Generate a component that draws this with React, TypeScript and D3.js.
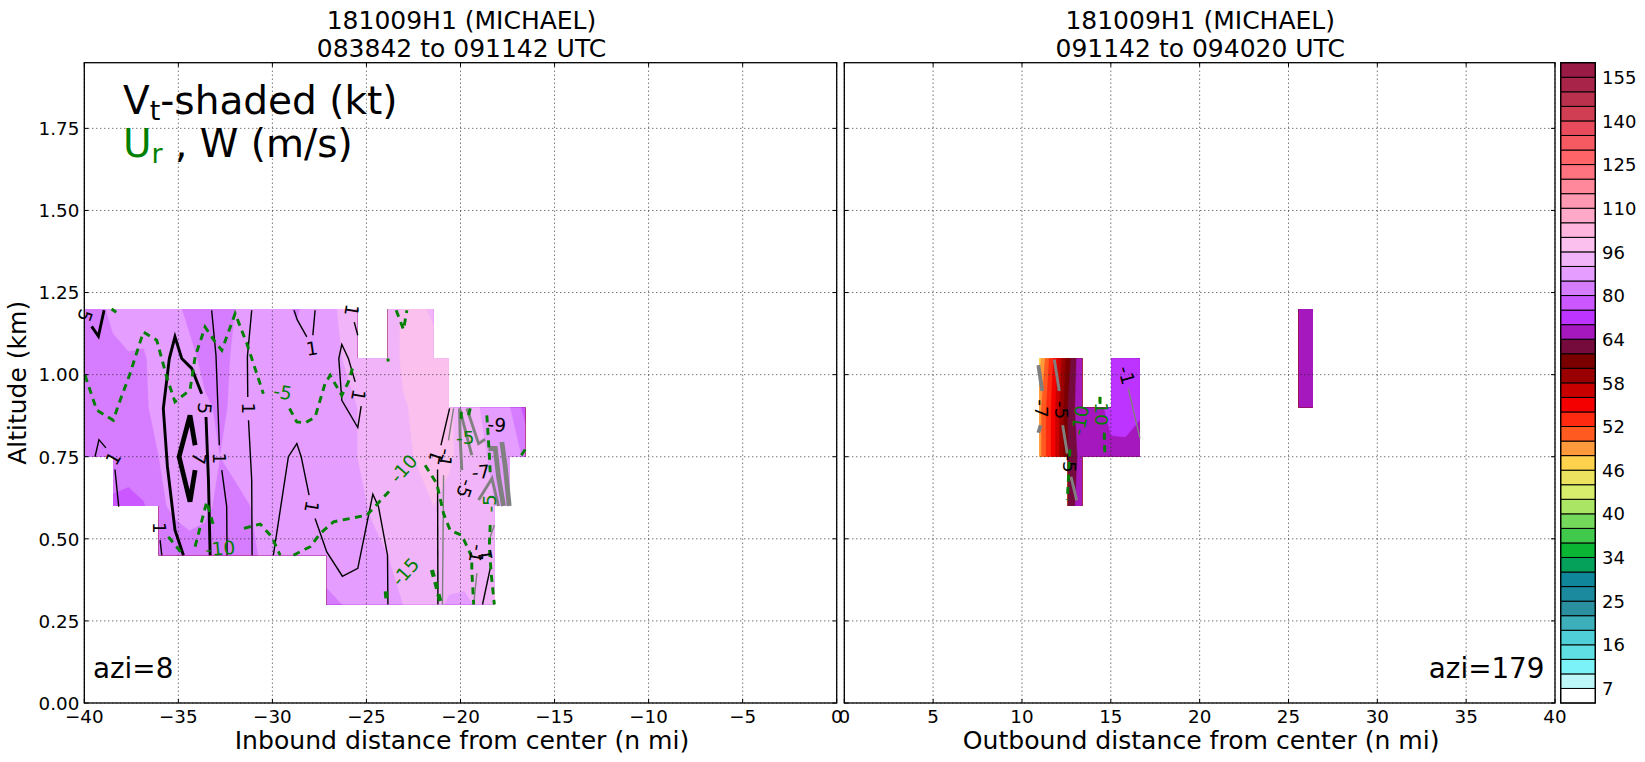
import { useEffect, useRef } from 'react';
import * as d3 from 'd3';

type Pt = [number, number];
type Lab = [string, number, number, number];

const FONT = '"DejaVu Sans", sans-serif';
const GRID_DX = 0.8115;

// colour bar
const vtLevels = [0, 7, 10, 13, 16, 19, 22, 25, 28, 31, 34, 36, 38, 40, 42, 44, 46, 48, 50, 52, 54, 56, 58, 60, 62, 64, 69, 75, 80, 85, 90, 96, 101, 105, 110, 115, 120, 125, 130, 135, 140, 145, 150, 155, 160];
const vtColors = ['#ffffff', '#bdf7f7', '#7bf2f7', '#5fdfe4', '#4fcfd8', '#3cafbb', '#2a8f9f', '#1b8a9f', '#0f8699', '#05a05a', '#0bb534', '#40c94a', '#74d85a', '#aae663', '#d6ee6c', '#ebe35f', '#ffd24d', '#ff9a3c', '#ff5a20', '#ff2a10', '#f50000', '#c80000', '#9a0000', '#7a0000', '#750a3c', '#a518bd', '#bd33ff', '#ca57ff', '#d67cff', '#e59dff', '#f2b4f8', '#fcc0ee', '#ffb5dd', '#ffa8c8', '#ff99b2', '#ff889a', '#ff7280', '#ff6468', '#f55a62', '#e84c5c', '#cf3e52', '#b9314c', '#a82448', '#991a44'];

const altRows = [0.3, 0.45, 0.6, 0.75, 0.9, 1.05, 1.2];
const _ = null;

// Vt by altitude row (low to high), one value per 1.5 km column, first column at -40.09
const inboundVt = [
  [_, _, _, _, _, _, _, _, _, _, _, _, _, _, _, _, 83, 85, 86, 87, 88, 90, 92, 92, 89, 88.5, 91, 96.5, _, _],
  [_, _, _, _, _, 81, 82, 83, 84, 84, 84, 84.5, 85.5, 87, 88, 88, 89, 88, 88, 89, 90, 92, 93, 94, 94, 94, 94, 95, _, _],
  [_, _, 79, 77.5, 79.5, 84, 86, 87, 85.5, 84.5, 84, 85, 86, 87, 88, 88, 88, 89, 89, 90.5, 91.5, 93, 94.5, 96, 94, 92, 91, 90, 88, _],
  [80, 81.5, 83, 84, 84.5, 85, 87, 87, 86, 85, 86, 87, 88, 88.5, 88.5, 88.5, 89, 89, 90, 91.5, 93, 95, 96.5, 97.5, 97, 94, 91, 89, 88, 84],
  [83, 84, 84, 84, 84.5, 86, 87, 87, 85.5, 84.5, 85.5, 87, 88, 88, 88.5, 88.5, 88.5, 89, 90, 91, 93, 95.5, 97, 98, 97, 93, 90, 87.5, 85, 78],
  [83.5, 84, 84.5, 84.5, 84.5, 87, 87, 86, 84, 84, 85.5, 87.5, 88, 88, 88, 88, 89, 90, 90.5, 91, 92.5, 97, 98, 98, 97, _, _, _, _, _],
  [84, 84.5, 85.5, 88, 87, 87, 86, 84, 83, 84, 85, 87, 88, 87.5, 84, 88, 89, 90.5, 91, 91, 92, 97, 97, 95, _, _, _, _, _, _],
];
// Vt, first column at 10.96
const outboundVt = [
  [_, _, _, _, _, _, _, _, _, _, _, _, _, _, _, _, _, _, _, _],
  [_, _, _, _, _, _, _, _, _, _, _, _, _, _, _, _, _, _, _, _],
  [_, _, 62, 66, _, _, _, _, _, _, _, _, _, _, _, _, _, _, _, _],
  [49, 55, 62, 65, 66, 67.5, 67, 66, _, _, _, _, _, _, _, _, _, _, _, _],
  [49, 55, 62, 66, 67, 71, 72, 70, _, _, _, _, _, _, _, _, _, _, 66, 66],
  [47, 54, 61, 66, _, 72, 72, 72, _, _, _, _, _, _, _, _, _, _, 66, 66],
  [_, _, _, _, _, _, _, _, _, _, _, _, _, _, _, _, _, _, 66, 66],
];

// where the radar has data: altitude from, altitude to, distance from, distance to
const inboundCover = [
  [1.05, 1.2, -40, -25.49], [1.05, 1.2, -23.86, -21.43], [0.9, 1.05, -40, -20.62],
  [0.75, 0.9, -40, -16.56], [0.6, 0.75, -38.47, -17.37], [0.45, 0.6, -36.04, -18.18], [0.3, 0.45, -27.11, -18.18],
];
const outboundCover = [
  [0.75, 1.05, 10.96, 13.39], [0.75, 0.9, 13.39, 15.01], [0.75, 1.05, 15.01, 16.64], [0.6, 0.75, 12.58, 13.39], [0.9, 1.2, 25.57, 26.38],
];

// W contours, positive
const wIn1: Pt[][] = [
  [[-33.23, 1.196], [-33.0, 1.059], [-32.82, 0.785]],
  [[-32.69, 0.709], [-32.43, 0.598], [-32.41, 0.45]],
  [[-31.1, 1.196], [-31.33, 1.054], [-31.31, 0.932]],
  [[-31.27, 0.861], [-31.1, 0.679], [-31.08, 0.45]],
  [[-39.43, 0.75], [-39.22, 0.802], [-38.85, 0.777]],
  [[-38.37, 0.711], [-38.17, 0.598]],
  [[-35.97, 0.496], [-35.88, 0.45]],
  [[-29.95, 0.45], [-29.15, 0.75], [-28.7, 0.79], [-28.47, 0.75], [-28.05, 0.633]],
  [[-27.73, 0.562], [-27.11, 0.46], [-26.28, 0.386], [-25.46, 0.41], [-24.66, 0.636], [-24.36, 0.598], [-23.88, 0.45], [-23.86, 0.3]],
  [[-28.85, 1.196], [-28.67, 1.166], [-28.17, 1.115]],
  [[-27.85, 1.12], [-27.73, 1.196]],
  [[-25.65, 1.16], [-25.46, 1.12]],
  [[-25.6, 0.978], [-25.96, 1.049], [-26.31, 1.092], [-26.47, 1.049], [-26.31, 0.922], [-25.46, 0.839], [-25.28, 0.904]],
  [[-20.58, 0.897], [-21.04, 0.785]],
  [[-21.22, 0.711], [-21.2, 0.3]],
  [[-18.42, 0.41], [-18.83, 0.3]],
];
const wIn5: Pt[][] = [
  [[-33.76, 0.942], [-34.29, 1.019], [-34.82, 1.049], [-35.18, 1.115], [-35.48, 1.049], [-35.8, 0.897], [-35.58, 0.719], [-35.18, 0.527], [-34.73, 0.45]],
  [[-33.53, 0.871], [-33.4, 0.679], [-33.31, 0.45]],
  [[-38.95, 1.196], [-39.25, 1.117], [-39.61, 1.147]],
];
const wIn7: Pt[][] = [
  [[-34.11, 0.785], [-34.38, 0.876], [-34.96, 0.75], [-34.38, 0.613], [-34.11, 0.709]],
];
// W contours, negative
const wInNeg1: Pt[][] = [
  [[-20.37, 0.897], [-20.64, 0.8]],
  [[-20.9, 0.694], [-20.96, 0.3]],
  [[-18.42, 0.506], [-18.2, 0.542]],
  [[-19.13, 0.395], [-19.3, 0.3]],
];
const wInNeg5: Pt[][] = [
  [[-20.05, 0.897], [-20.02, 0.81], [-19.93, 0.709]],
  [[-20.05, 0.897], [-19.4, 0.755]],
  [[-19.66, 0.897], [-19.04, 0.79], [-18.69, 0.803]],
  [[-19.04, 0.618], [-18.33, 0.684], [-17.98, 0.6]],
];
const wInNeg9: Pt[][] = [
  [[-18.51, 0.775], [-18.15, 0.775], [-17.98, 0.689], [-17.71, 0.6]],
  [[-17.8, 0.795], [-17.62, 0.719], [-17.41, 0.6]],
];
const wOutNeg: Pt[][] = [
  [[11.82, 1.046], [12.1, 0.95]],
  [[12.29, 0.846], [12.55, 0.76]],
  [[12.76, 0.689], [13.08, 0.617]],
];
const wOutNeg7: Pt[][] = [
  [[10.92, 1.029], [11.14, 0.95]],
  [[11.05, 0.846], [10.92, 0.823]],
];
const wOutNeg1: Pt[][] = [
  [[15.98, 0.958], [16.64, 0.806]],
];

// Ur contours
const urIn: Pt[][] = [
  [[-39.96, 0.998], [-39.34, 0.892], [-38.46, 0.861], [-38.19, 0.907], [-37.57, 1.003], [-36.86, 1.13], [-36.15, 1.105], [-35.62, 0.993], [-35.18, 0.917], [-34.38, 0.953], [-34.11, 1.054], [-33.58, 1.145], [-33.05, 1.1], [-32.69, 1.074], [-31.98, 1.186], [-31.36, 1.095], [-30.48, 0.942]],
  [[-29.09, 0.897], [-28.7, 0.856], [-28.26, 0.853], [-27.73, 0.871], [-27.2, 0.973], [-26.93, 0.998], [-26.31, 0.937], [-25.96, 0.978], [-25.69, 1.029]],
  [[-23.42, 1.196], [-23.03, 1.137], [-22.85, 1.196]],
  [[-23.86, 1.049], [-23.84, 1.04]],
  [[-38.55, 1.2], [-38.3, 1.19]],
  [[-35.53, 0.506], [-34.73, 0.45]],
  [[-34.11, 0.476], [-33.49, 0.613], [-33.14, 0.542]],
  [[-31.51, 0.532], [-30.65, 0.545], [-30.03, 0.506], [-29.59, 0.45]],
  [[-28.88, 0.45], [-27.99, 0.476], [-27.46, 0.516], [-26.75, 0.552], [-24.98, 0.572], [-23.74, 0.648]],
  [[-21.88, 0.724], [-21.26, 0.668], [-20.9, 0.577], [-20.55, 0.526], [-19.93, 0.511], [-19.4, 0.445], [-19.4, 0.405], [-19.3, 0.3]],
  [[-18.6, 0.876], [-18.47, 0.76], [-18.42, 0.699]],
  [[-18.42, 0.542], [-18.47, 0.476], [-18.37, 0.395], [-18.2, 0.3]],
  [[-19.48, 0.897], [-19.57, 0.877]],
  [[-19.96, 0.887], [-19.96, 0.861]],
  [[-16.56, 0.772], [-16.82, 0.75]],
];
const urInThick: Pt[][] = [
  [[-21.52, 0.405], [-21.3, 0.36], [-21.08, 0.31]],
  [[-23.97, 0.34], [-23.93, 0.315]],
];
const urOut: Pt[][] = [
  [[12.7, 0.772], [12.55, 0.618]],
  [[14.63, 0.823], [14.67, 0.75]],
  [[14.4, 0.932], [14.39, 0.911]],
];

// contour labels: text, distance, altitude, rotation
const blackInLabels: Lab[] = [
  ['1', -32.78, 0.745, 90], ['1', -31.27, 0.897, 90], ['1', -38.46, 0.745, -60], ['1', -36.0, 0.533, 90],
  ['1', -27.9, 0.598, 100], ['1', -27.9, 1.08, -8], ['1', -25.78, 1.196, 100], ['1', -25.42, 0.937, 100],
  ['1', -21.29, 0.75, -70], ['-1', -20.81, 0.747, 100], ['1', -18.69, 0.45, -100], ['-1', -19.13, 0.455, 100],
  ['5', -33.6, 0.897, 95], ['7', -33.9, 0.745, 100], ['5', -39.96, 1.18, 110],
  ['-5', -19.75, 0.653, 110], ['-7', -18.92, 0.704, -5], ['-9', -18.07, 0.848, 5],
];
const greenInLabels: Lab[] = [
  ['-5', -29.45, 0.947, 10], ['-10', -32.78, 0.471, -5], ['-10', -23.03, 0.714, -48],
  ['-5', -19.75, 0.81, 0], ['-5', -18.47, 0.608, -90], ['-15', -22.94, 0.4, -48],
];
const blackOutLabels: Lab[] = [
  ['-7', 11.11, 0.897, 90], ['-5', 12.23, 0.892, 90], ['-5', 12.7, 0.729, 90], ['-1', 15.89, 0.998, 75],
];
const greenOutLabels: Lab[] = [
  ['-10', 13.26, 0.861, -80], ['-10', 14.47, 0.89, 90],
];

const xTicksIn = [-40, -35, -30, -25, -20, -15, -10, -5, 0];
const xTicksOut = [0, 5, 10, 15, 20, 25, 30, 35, 40];
const yTicks = [0, 0.25, 0.5, 0.75, 1, 1.25, 1.5, 1.75];

const frameTop = 62.7;
const frameBottom = 703;

// cells with no data get their neighbours' mean so the contours run straight through the cover's edge
function padGrid(rows: (number | null)[][]): number[] {
  const g = rows.map(r => r.slice());
  const h = g.length;
  const w = g[0].length;
  let left = true;
  while (left) {
    left = false;
    const next = g.map(r => r.slice());
    for (let j = 0; j < h; j++) {
      for (let i = 0; i < w; i++) {
        if (g[j][i] !== null) continue;
        const n = [g[j][i - 1], g[j][i + 1], g[j - 1]?.[i], g[j + 1]?.[i]].filter(v => v !== null && v !== undefined) as number[];
        if (n.length) next[j][i] = d3.mean(n) as number;
        else left = true;
      }
    }
    for (let j = 0; j < h; j++) g[j] = next[j];
  }
  return g.flat() as number[];
}

export default function App() {
  const svgRef = useRef<SVGSVGElement>(null);

  useEffect(() => {
    if (!svgRef.current) return;
    const svg = d3.select(svgRef.current);
    svg.selectAll('*').remove();

    const y = d3.scaleLinear().domain([0, 1.95]).range([frameBottom, frameTop]);
    const xIn = d3.scaleLinear().domain([-40, 0]).range([84.3, 836.7]);
    const xOut = d3.scaleLinear().domain([0, 40]).range([844.3, 1555]);

    const panel = (
      id: string,
      x: d3.ScaleLinear<number, number>,
      ticks: number[],
      rows: (number | null)[][],
      x0: number,
      cover: number[][],
    ) => {
      const g = svg.append('g');
      const [left, right] = x.range();
      const clip = g.append('clipPath').attr('id', id);
      cover.forEach(c => {
        clip.append('rect')
          .attr('x', x(c[2]))
          .attr('y', y(c[1]))
          .attr('width', x(c[3]) - x(c[2]))
          .attr('height', y(c[0]) - y(c[1]));
      });

      // shading
      const nx = rows[0].length;
      const ny = rows.length;
      const contours = d3.contours().size([nx, ny]).thresholds(vtLevels.slice(1, 44))(padGrid(rows));
      const toPx = (p: number[]) => [x(x0 + (p[0] - 0.5) * GRID_DX), y(altRows[0] + (p[1] - 0.5) * 0.15)];
      const path = d3.geoPath();
      const shade = g.append('g').attr('clip-path', `url(#${id})`);
      contours.forEach(c => {
        if (!c.coordinates.length) return;
        const geom = { type: 'MultiPolygon', coordinates: c.coordinates.map(poly => poly.map(ring => ring.map(toPx))) };
        shade.append('path')
          .attr('d', path(geom as any))
          .attr('fill', vtColors[vtLevels.indexOf(c.value)])
          .attr('stroke', vtColors[vtLevels.indexOf(c.value)])
          .attr('stroke-width', 0.4);
      });

      // grid
      ticks.forEach(t => {
        g.append('line').attr('x1', x(t)).attr('x2', x(t)).attr('y1', frameTop).attr('y2', frameBottom)
          .attr('stroke', '#222').attr('stroke-width', 0.9).attr('stroke-dasharray', '1,3');
      });
      yTicks.forEach(t => {
        g.append('line').attr('x1', left).attr('x2', right).attr('y1', y(t)).attr('y2', y(t))
          .attr('stroke', '#222').attr('stroke-width', 0.9).attr('stroke-dasharray', '1,3');
      });
      return g;
    };

    const inPanel = panel('cover-in', xIn, xTicksIn, inboundVt, -40.09, inboundCover);
    const outPanel = panel('cover-out', xOut, xTicksOut, outboundVt, 10.96, outboundCover);

    const drawLines = (
      g: d3.Selection<SVGGElement, unknown, null, undefined>,
      x: d3.ScaleLinear<number, number>,
      lines: Pt[][],
      color: string,
      width: number,
      dash?: string,
    ) => {
      const line = d3.line<Pt>().x(d => x(d[0])).y(d => y(d[1]));
      lines.forEach(l => {
        g.append('path')
          .attr('d', line(l))
          .attr('fill', 'none')
          .attr('stroke', color)
          .attr('stroke-width', width)
          .attr('stroke-dasharray', dash ?? null);
      });
    };

    const GRAY = '#808080';
    const GREEN = '#008000';
    const DASH = '7,5.5';
    drawLines(inPanel, xIn, wInNeg1, GRAY, 1.4);
    drawLines(inPanel, xIn, wInNeg5, GRAY, 2.9);
    drawLines(inPanel, xIn, wInNeg9, GRAY, 4.8);
    drawLines(inPanel, xIn, wIn1, '#000', 1.4);
    drawLines(inPanel, xIn, wIn5, '#000', 2.9);
    drawLines(inPanel, xIn, wIn7, '#000', 4.8);
    drawLines(inPanel, xIn, urIn, GREEN, 2.9, DASH);
    drawLines(inPanel, xIn, urInThick, GREEN, 4.2, DASH);
    drawLines(outPanel, xOut, wOutNeg1, GRAY, 1.4);
    drawLines(outPanel, xOut, wOutNeg, GRAY, 2.9);
    drawLines(outPanel, xOut, wOutNeg7, GRAY, 3.8);
    drawLines(outPanel, xOut, urOut, GREEN, 2.9, DASH);

    const drawLabels = (
      g: d3.Selection<SVGGElement, unknown, null, undefined>,
      x: d3.ScaleLinear<number, number>,
      labels: Lab[],
      color: string,
    ) => {
      labels.forEach(([t, lx, ly, r]) => {
        g.append('text')
          .attr('transform', `translate(${x(lx)},${y(ly)}) rotate(${r})`)
          .attr('text-anchor', 'middle')
          .attr('dy', '0.36em')
          .attr('font-family', FONT)
          .attr('font-size', 18.5)
          .attr('fill', color)
          .text(t);
      });
    };
    drawLabels(inPanel, xIn, blackInLabels, '#000');
    drawLabels(inPanel, xIn, greenInLabels, GREEN);
    drawLabels(outPanel, xOut, blackOutLabels, '#000');
    drawLabels(outPanel, xOut, greenOutLabels, GREEN);

    // frames, ticks, tick labels
    const frame = (
      g: d3.Selection<SVGGElement, unknown, null, undefined>,
      x: d3.ScaleLinear<number, number>,
      ticks: number[],
      showY: boolean,
    ) => {
      const [left, right] = x.range();
      ticks.forEach(t => {
        g.append('line').attr('x1', x(t)).attr('x2', x(t)).attr('y1', frameBottom).attr('y2', frameBottom - 4).attr('stroke', '#000');
        g.append('line').attr('x1', x(t)).attr('x2', x(t)).attr('y1', frameTop).attr('y2', frameTop + 4).attr('stroke', '#000');
        g.append('text')
          .attr('x', x(t)).attr('y', 722.7)
          .attr('text-anchor', 'middle')
          .attr('font-family', FONT).attr('font-size', 18.3)
          .text(String(t).replace('-', '\u2212'));
      });
      yTicks.forEach(t => {
        g.append('line').attr('x1', left).attr('x2', left + 4).attr('y1', y(t)).attr('y2', y(t)).attr('stroke', '#000');
        g.append('line').attr('x1', right - 4).attr('x2', right).attr('y1', y(t)).attr('y2', y(t)).attr('stroke', '#000');
        if (showY) {
          g.append('text')
            .attr('x', left - 5).attr('y', y(t))
            .attr('dy', '0.37em')
            .attr('text-anchor', 'end')
            .attr('font-family', FONT).attr('font-size', 18.3)
            .text(d3.format('.2f')(t));
        }
      });
      g.append('rect')
        .attr('x', left).attr('y', frameTop)
        .attr('width', right - left).attr('height', frameBottom - frameTop)
        .attr('fill', 'none').attr('stroke', '#000').attr('stroke-width', 1.3);
    };
    frame(inPanel, xIn, xTicksIn, true);
    frame(outPanel, xOut, xTicksOut, false);

    // titles and axis labels
    const text = (t: string, px: number, py: number, size: number, anchor = 'middle') =>
      svg.append('text')
        .attr('x', px).attr('y', py)
        .attr('text-anchor', anchor)
        .attr('font-family', FONT).attr('font-size', size)
        .text(t);

    text('181009H1 (MICHAEL)', 461.5, 29, 25);
    text('083842 to 091142 UTC', 461.5, 56.7, 25);
    text('181009H1 (MICHAEL)', 1200.2, 29, 25);
    text('091142 to 094020 UTC', 1200.2, 56.7, 25);
    text('Inbound distance from center (n mi)', 462, 749, 25.1);
    text('Outbound distance from center (n mi)', 1201.2, 749, 25.1);
    svg.append('text')
      .attr('transform', `translate(26,${y(0.975)}) rotate(-90)`)
      .attr('text-anchor', 'middle')
      .attr('font-family', FONT).attr('font-size', 25)
      .text('Altitude (km)');
    text('azi=8', 93, 678, 27.8, 'start');
    text('azi=179', 1544.5, 678, 27.8, 'end');

    const heading = svg.append('text').attr('x', 123).attr('y', 114)
      .attr('font-family', FONT).attr('font-size', 39);
    heading.append('tspan').text('V');
    heading.append('tspan').attr('font-size', 27).attr('dy', 6).text('t');
    heading.append('tspan').attr('dy', -6).text('-shaded (kt)');

    const heading2 = svg.append('text').attr('x', 123).attr('y', 157)
      .attr('font-family', FONT).attr('font-size', 39);
    heading2.append('tspan').attr('fill', GREEN).text('U');
    heading2.append('tspan').attr('fill', GREEN).attr('font-size', 27).attr('dy', 6).text('r');
    heading2.append('tspan').attr('dy', -6).text(' , W (m/s)');

    // colour bar
    const bar = svg.append('g');
    const barY = d3.scaleLinear().domain([0, 44]).range([frameBottom, frameTop]);
    vtColors.forEach((c, i) => {
      bar.append('rect')
        .attr('x', 1560.7).attr('y', barY(i + 1))
        .attr('width', 34.6).attr('height', barY(i) - barY(i + 1))
        .attr('fill', c).attr('stroke', '#000').attr('stroke-width', 1);
    });
    bar.append('rect')
      .attr('x', 1560.7).attr('y', frameTop)
      .attr('width', 34.6).attr('height', frameBottom - frameTop)
      .attr('fill', 'none').attr('stroke', '#000').attr('stroke-width', 1.3);
    vtLevels.forEach((lv, i) => {
      if (i % 3 !== 1 || i > 43) return;
      bar.append('text')
        .attr('x', 1602).attr('y', barY(i))
        .attr('dy', '0.37em')
        .attr('font-family', FONT).attr('font-size', 18)
        .text(lv);
    });
  }, []);

  return (
    <svg
      ref={svgRef}
      width={1645}
      height={762}
      style={{ position: 'absolute', left: 0, top: 0, background: '#fff' }}
    />
  );
}
